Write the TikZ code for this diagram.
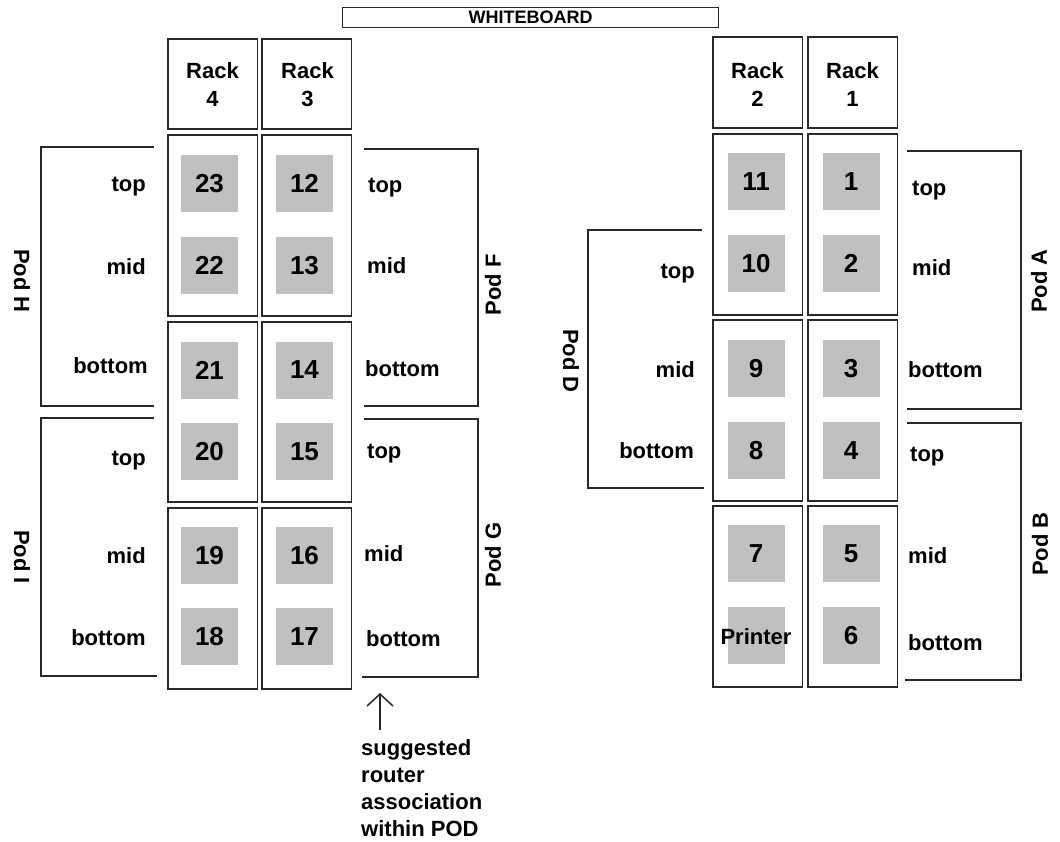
\documentclass[tikz,border=0pt]{standalone}
\usepackage{fontspec}
\setmainfont{Liberation Sans}
\usetikzlibrary{arrows.meta}
\definecolor{lc}{RGB}{40,40,40}
\definecolor{gfill}{RGB}{192,192,192}
\newcommand\lblfont{\fontsize{22}{27}\selectfont\bfseries}
\newcommand\numfont{\fontsize{26}{30}\selectfont\bfseries}
\newcommand\wbfont{\fontsize{18}{20}\selectfont\bfseries}
\begin{document}
\begin{tikzpicture}[x=1pt,y=-1pt,
  rackbox/.style={draw=lc, line width=1.6pt, inner sep=0pt, anchor=north west, minimum width=89.5pt},
  graysq/.style={fill=gfill, inner sep=0pt, minimum size=57pt, font=\numfont},
  lbl/.style={font=\lblfont, inner sep=0pt},
  lblL/.style={lbl, anchor=mid west},
  lblR/.style={lbl, anchor=mid east},
  podline/.style={draw=lc, line width=1.3pt},
  podname/.style={font=\lblfont, inner sep=0pt},
]
\useasboundingbox[fill=white] (0,0) rectangle (1060,842);

% whiteboard
\node[draw=lc, line width=1.3pt, minimum width=376pt, minimum height=20pt, inner sep=0pt, font=\wbfont, anchor=north west] (wb) at (342,7) {WHITEBOARD};

% rack headers
\node[rackbox, minimum height=90pt] (hdr4) at (167,38) {};
\node[rackbox, minimum height=90pt] (hdr3) at (261,38) {};
\node[rackbox, minimum height=91pt] (hdr2) at (712,36) {};
\node[rackbox, minimum height=91pt] (hdr1) at (807,36) {};
\node[lbl, anchor=base] (h4a) at (212.5,79) {Rack};
\node[lbl, anchor=base] (h4b) at (212.5,107) {4};
\node[lbl, anchor=base] (h3a) at (307.5,79) {Rack};
\node[lbl, anchor=base] (h3b) at (307.5,107) {3};
\node[lbl, anchor=base] (h2a) at (757.5,79) {Rack};
\node[lbl, anchor=base] (h2b) at (757.5,107) {2};
\node[lbl, anchor=base] (h1a) at (852.5,79) {Rack};
\node[lbl, anchor=base] (h1b) at (852.5,107) {1};

% rack boxes left
\node[rackbox, minimum height=181pt] (r4a) at (167,134) {};
\node[rackbox, minimum height=180pt] (r4b) at (167,321) {};
\node[rackbox, minimum height=181pt] (r4c) at (167,507) {};
\node[rackbox, minimum height=181pt] (r3a) at (261,134) {};
\node[rackbox, minimum height=180pt] (r3b) at (261,321) {};
\node[rackbox, minimum height=181pt] (r3c) at (261,507) {};
% rack boxes right
\node[rackbox, minimum height=181pt] (r2a) at (712,133) {};
\node[rackbox, minimum height=181pt] (r2b) at (712,319) {};
\node[rackbox, minimum height=181pt] (r2c) at (712,505) {};
\node[rackbox, minimum height=181pt] (r1a) at (807,133) {};
\node[rackbox, minimum height=181pt] (r1b) at (807,319) {};
\node[rackbox, minimum height=181pt] (r1c) at (807,505) {};

% gray squares left
\node[graysq] (s23) at (209.5,183.5) {23};
\node[graysq] (s22) at (209.5,265.5) {22};
\node[graysq] (s21) at (209.5,370) {21};
\node[graysq] (s20) at (209.5,451.5) {20};
\node[graysq] (s19) at (209.5,555.5) {19};
\node[graysq] (s18) at (209.5,636.5) {18};
\node[graysq] (s12) at (304.5,183.5) {12};
\node[graysq] (s13) at (304.5,265.5) {13};
\node[graysq] (s14) at (304.5,370) {14};
\node[graysq] (s15) at (304.5,451.5) {15};
\node[graysq] (s16) at (304.5,555.5) {16};
\node[graysq] (s17) at (304.5,636.5) {17};
% gray squares right
\node[graysq] (s11) at (756,182) {11};
\node[graysq] (s10) at (756,263.5) {10};
\node[graysq] (s9) at (756,368.5) {9};
\node[graysq] (s8) at (756,450.5) {8};
\node[graysq] (s7) at (756,553.5) {7};
\node[graysq] (sP) at (756,635.5) {};
\node[lbl] (printer) at ([yshift=-1pt]sP.center) {Printer};
\node[graysq] (s1) at (851,182) {1};
\node[graysq] (s2) at (851,263.5) {2};
\node[graysq] (s3) at (851,368.5) {3};
\node[graysq] (s4) at (851,450.5) {4};
\node[graysq] (s5) at (851,553.5) {5};
\node[graysq] (s6) at (851,635.5) {6};

% pod brackets
\draw[podline] (154,147) -| (41,406) -- (154,406);
\draw[podline] (154,418) -| (41,676) -- (157,676);
\draw[podline] (364,149) -| (478,406) -- (364,406);
\draw[podline] (364,419) -| (478,677) -- (362,677);
\draw[podline] (907,151) -| (1021,409) -- (907,409);
\draw[podline] (907,423) -| (1021,680) -- (905,680);
\draw[podline] (702,230) -| (588,488) -- (704,488);

% pod names
\node[podname, rotate=-90] (podH) at (22,281) {Pod H};
\node[podname, rotate=-90] (podI) at (22,557) {Pod I};
\node[podname, rotate=90] (podF) at (493,285) {Pod F};
\node[podname, rotate=90] (podG) at (493,555) {Pod G};
\node[podname, rotate=90] (podA) at (1039,281) {Pod A};
\node[podname, rotate=90] (podB) at (1040,544) {Pod B};
\node[podname, rotate=-90] (podD) at (571,361) {Pod D};

% pod labels
\node[lblR] (hT) at (146,188.5) {top};
\node[lblR] (hM) at (146,271.5) {mid};
\node[lblR] (hB) at (148,370.5) {bottom};
\node[lblR] (iT) at (146,462.5) {top};
\node[lblR] (iM) at (146,560.5) {mid};
\node[lblR] (iB) at (146,642.5) {bottom};
\node[lblL] (fT) at (368,189.5) {top};
\node[lblL] (fM) at (367,270.5) {mid};
\node[lblL] (fB) at (365,373.5) {bottom};
\node[lblL] (gT) at (367,455.5) {top};
\node[lblL] (gM) at (364,558.5) {mid};
\node[lblL] (gB) at (366,643.5) {bottom};
\node[lblL] (aT) at (912,192.5) {top};
\node[lblL] (aM) at (912,272.5) {mid};
\node[lblL] (aB) at (908,374.5) {bottom};
\node[lblL] (bT) at (910,458.5) {top};
\node[lblL] (bM) at (908,560.5) {mid};
\node[lblL] (bB) at (908,647.5) {bottom};
\node[lblR] (dT) at (695,275.5) {top};
\node[lblR] (dM) at (695,374.5) {mid};
\node[lblR] (dB) at (694,455.5) {bottom};

% note and arrow
\coordinate (arrtip) at (380,693);
\coordinate (arrbase) at (380,730);
\draw[lc, line width=1.5pt, -{Straight Barb[length=12pt,width=26pt]}] (arrbase) -- (arrtip);
\node[lbl, align=left, anchor=north west] (note) at (361,739) {suggested\\router\\association\\within POD};
\end{tikzpicture}
\end{document}
